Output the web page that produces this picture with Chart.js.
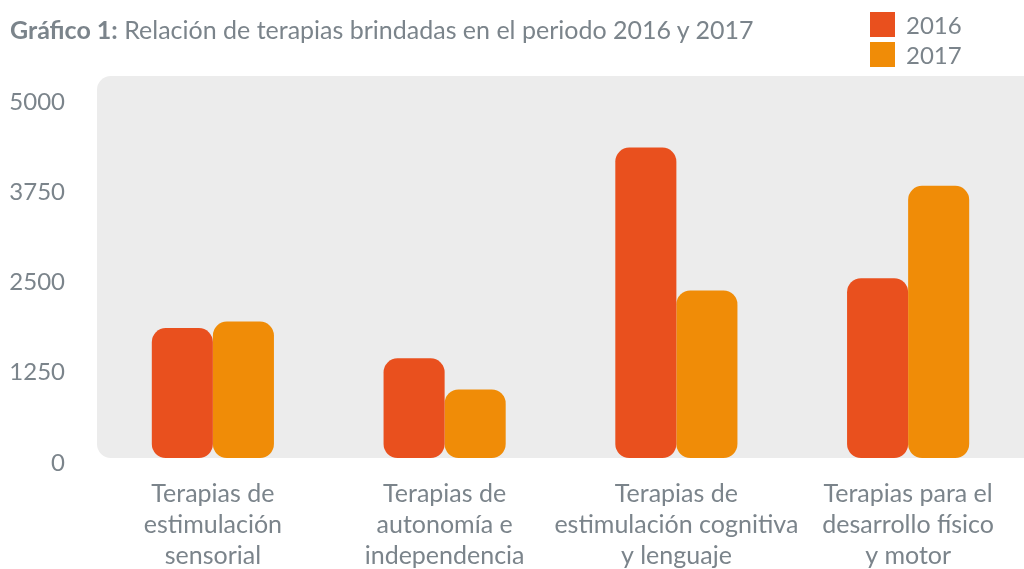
<!DOCTYPE html>
<html>
<head>
<meta charset="utf-8">
<script src="https://cdn.jsdelivr.net/npm/chart.js@4"></script>
<style>
	body { margin: 0; background: #fff; font-family: Lato, sans-serif; color: #7b848b; }
	#wrap { position: relative; width: 1024px; height: 569px; }
	#title { position: absolute; left: 10px; top: 14px; font-size: 25px; white-space: nowrap; }
	#title b { color: #7b848b; }
	#legend { position: absolute; left: 870px; top: 9px; font-size: 24px; }
	.item { height: 30px; display: flex; align-items: center; }
	.box { width: 25px; height: 25px; margin-right: 11px; }
</style>
</head>
<body>
<div id="wrap">
	<canvas id="chart" width="1024" height="569"></canvas>
	<div id="title"><b>Gráfico 1:</b> Relación de terapias brindadas en el periodo 2016 y 2017</div>
	<div id="legend"></div>
</div>
<script>
// categories
var categories = [
	["Terapias de", "estimulación", "sensorial"],
	["Terapias de", "autonomía e", "independencia"],
	["Terapias de", "estimulación cognitiva", "y lenguaje"],
	["Terapias para el", "desarrollo físico", "y motor"]
];
var seriesNames = ["2016", "2017"];
var values2016 = [1800, 1380, 4300, 2490];
var values2017 = [1890, 950, 2320, 3770];
var yTicks = [0, 1250, 2500, 3750, 5000];

var colors = ["#e9501e", "#f08c07"];
var textColor = "#7b848b";

// grey rounded panel behind the bars
var panelPlugin = {
	id: "panel",
	beforeDraw: function (chart) {
		var ctx = chart.ctx;
		var a = chart.chartArea;
		var top = a.top - 21;
		var r = 14;
		ctx.save();
		ctx.fillStyle = "#ececec";
		ctx.beginPath();
		ctx.roundRect(a.left, top, chart.width - a.left + r, a.bottom - top, r);
		ctx.fill();
		ctx.restore();
	}
};

var config = {
	type: "bar",
	data: {
		labels: categories,
		datasets: [
			{
				label: seriesNames[0],
				data: values2016,
				backgroundColor: colors[0],
				borderRadius: 14,
				borderSkipped: false
			},
			{
				label: seriesNames[1],
				data: values2017,
				backgroundColor: colors[1],
				borderRadius: 14,
				borderSkipped: false
			}
		]
	},
	options: {
		responsive: false,
		animation: false,
		layout: { padding: { top: 97, right: 0, left: 0, bottom: 0 } },
		datasets: { bar: { categoryPercentage: 0.527, barPercentage: 1 } },
		plugins: {
			legend: { display: false },
			title: { display: false },
			tooltip: { enabled: false }
		},
		scales: {
			x: {
				grid: { display: false, drawTicks: false },
				border: { display: false },
				ticks: {
					color: textColor,
					font: { family: "Lato", size: 25, lineHeight: 1.24 },
					padding: 20,
					maxRotation: 0,
					autoSkip: false
				},
				afterFit: function (scale) { scale.height = 111; }
			},
			y: {
				min: 0,
				max: 5000,
				grid: { display: false, drawTicks: false },
				border: { display: false },
				afterBuildTicks: function (scale) {
					scale.ticks = yTicks.map(function (v) { return { value: v }; });
				},
				ticks: {
					color: textColor,
					font: { family: "Lato", size: 24 },
					padding: 32,
					labelOffset: 5,
					callback: function (v) { return String(v); }
				},
				afterFit: function (scale) { scale.width = 97; }
			}
		}
	},
	plugins: [panelPlugin]
};

var chart = new Chart(document.getElementById("chart").getContext("2d"), config);

// legend built from the datasets
var legendEl = document.getElementById("legend");
chart.data.datasets.forEach(function (ds) {
	var item = document.createElement("div");
	item.className = "item";
	var box = document.createElement("div");
	box.className = "box";
	box.style.background = ds.backgroundColor;
	item.appendChild(box);
	item.appendChild(document.createTextNode(ds.label));
	legendEl.appendChild(item);
});
</script>
</body>
</html>
